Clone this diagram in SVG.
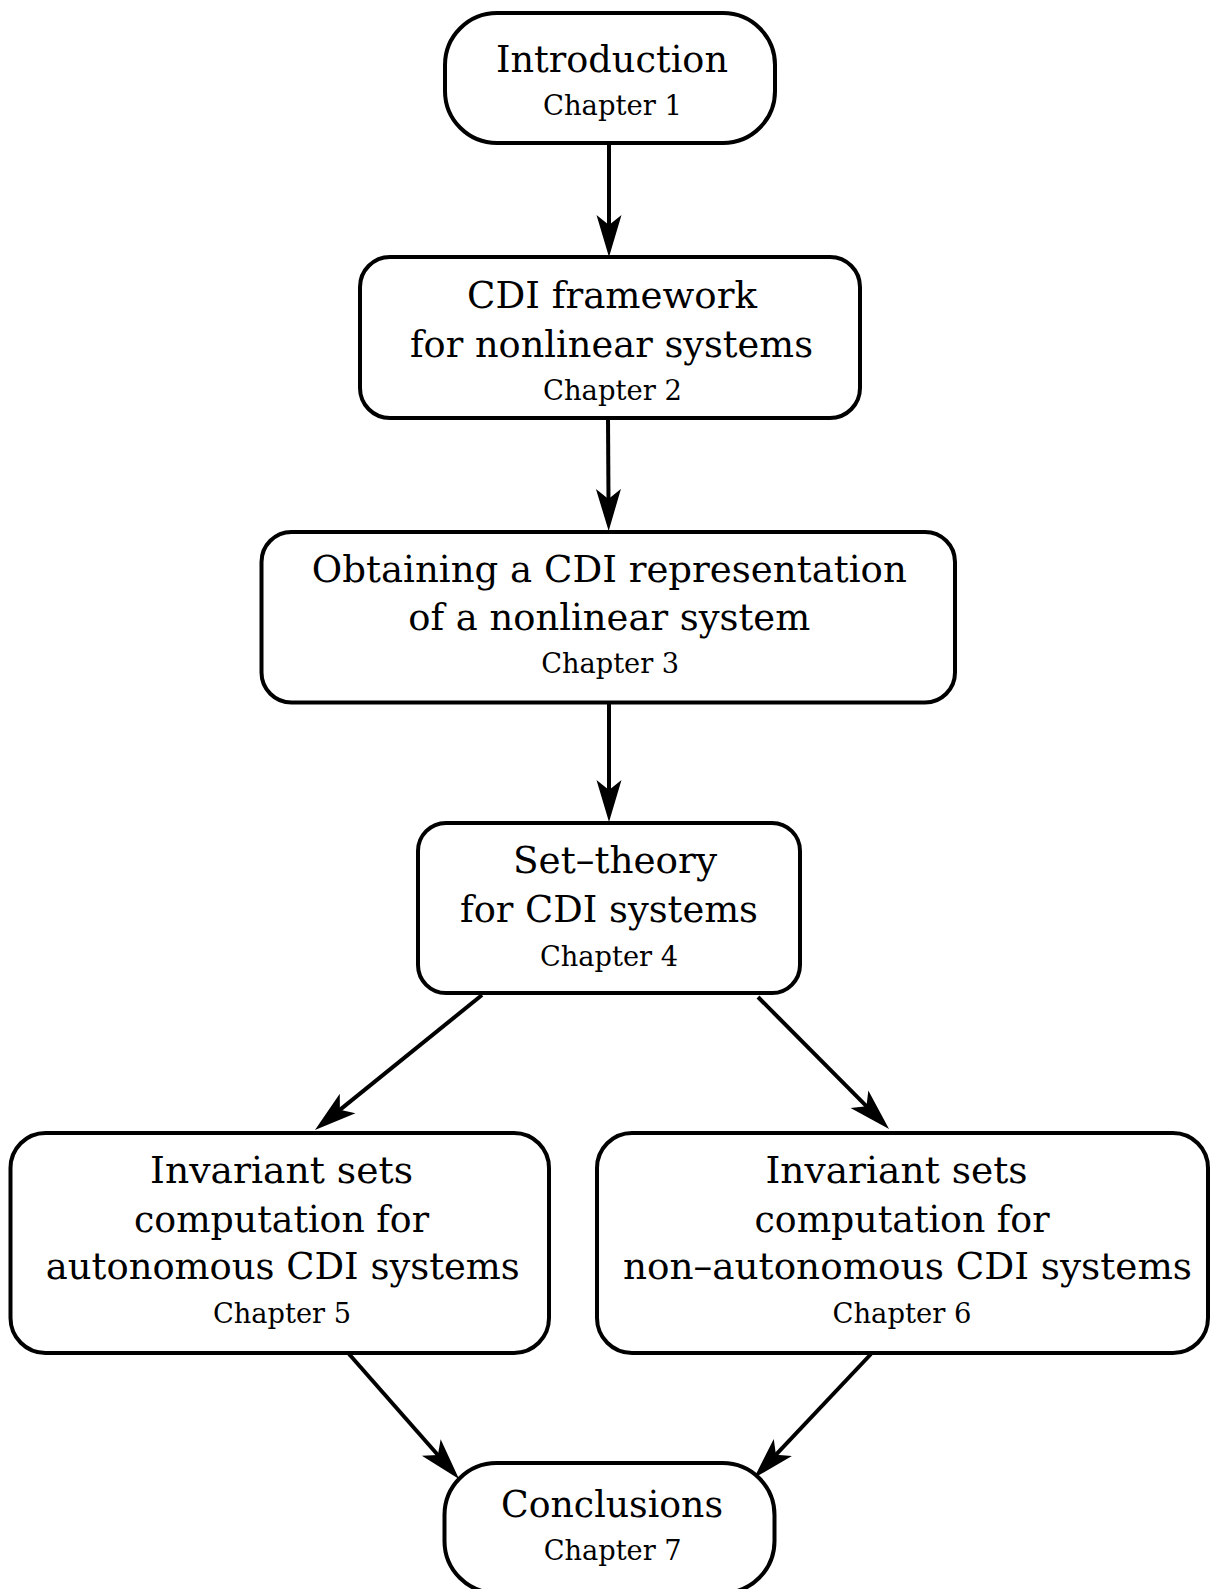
<svg xmlns="http://www.w3.org/2000/svg" width="1211" height="1589" viewBox="0 0 1211 1589">
<style>
.box{fill:#fff;stroke:#000;stroke-width:4}
.t{font-family:"DejaVu Serif","Liberation Serif",serif;font-size:36.5px;fill:#000;text-anchor:middle}
.c{font-family:"DejaVu Serif","Liberation Serif",serif;font-size:28.5px;fill:#000;text-anchor:middle}
.edge{stroke:#000;stroke-width:4;fill:none;marker-end:url(#arr)}
</style>
<defs>
<marker id="arr" markerUnits="userSpaceOnUse" markerWidth="44" markerHeight="28" viewBox="0 -14 44 28" refX="12" refY="0" orient="auto">
<path d="M42,0 L0,-12.5 L10,0 L0,12.5 Z" fill="#000"/>
</marker>
</defs>
<rect width="1211" height="1589" fill="#fff"/>
<g id="connectors">
<line class="edge" x1="609" y1="143" x2="609" y2="227"/>
<line class="edge" x1="608" y1="418" x2="608.5" y2="501"/>
<line class="edge" x1="609" y1="703" x2="609" y2="792"/>
<line class="edge" x1="482" y1="995" x2="338.3" y2="1111.1"/>
<line class="edge" x1="758" y1="997" x2="867.9" y2="1107.7"/>
<line class="edge" x1="349" y1="1354" x2="439.2" y2="1456.5"/>
<line class="edge" x1="871" y1="1354" x2="774.6" y2="1456.2"/>
</g>
<g id="n1">
<rect class="box" x="445" y="13" width="330" height="130" rx="52" ry="52"/>
<text class="t" x="612" y="72" textLength="232" lengthAdjust="spacingAndGlyphs">Introduction</text>
<text class="c" x="612.5" y="115" textLength="139" lengthAdjust="spacingAndGlyphs">Chapter 1</text>
</g>
<g id="n2">
<rect class="box" x="360" y="257" width="500" height="161" rx="30"/>
<text class="t" x="612" y="308" textLength="290" lengthAdjust="spacingAndGlyphs">CDI framework</text>
<text class="t" x="611.5" y="357" textLength="403" lengthAdjust="spacingAndGlyphs">for nonlinear systems</text>
<text class="c" x="612.5" y="400" textLength="139" lengthAdjust="spacingAndGlyphs">Chapter 2</text>
</g>
<g id="n3">
<rect class="box" x="261.5" y="532" width="693.5" height="170.5" rx="30"/>
<text class="t" x="609.3" y="582" textLength="595" lengthAdjust="spacingAndGlyphs">Obtaining a CDI representation</text>
<text class="t" x="609.2" y="630" textLength="402" lengthAdjust="spacingAndGlyphs">of a nonlinear system</text>
<text class="c" x="610.2" y="673" textLength="138" lengthAdjust="spacingAndGlyphs">Chapter 3</text>
</g>
<g id="n4">
<rect class="box" x="418" y="823" width="382" height="170" rx="28"/>
<text class="t" x="615" y="873" textLength="204" lengthAdjust="spacingAndGlyphs">Set–theory</text>
<text class="t" x="609" y="922" textLength="298" lengthAdjust="spacingAndGlyphs">for CDI systems</text>
<text class="c" x="609" y="966" textLength="138" lengthAdjust="spacingAndGlyphs">Chapter 4</text>
</g>
<g id="n5">
<rect class="box" x="10.5" y="1133" width="538.5" height="220" rx="35"/>
<text class="t" x="281.5" y="1183" textLength="263" lengthAdjust="spacingAndGlyphs">Invariant sets</text>
<text class="t" x="281.5" y="1232" textLength="295" lengthAdjust="spacingAndGlyphs">computation for</text>
<text class="t" x="282.8" y="1279" textLength="474" lengthAdjust="spacingAndGlyphs">autonomous CDI systems</text>
<text class="c" x="282" y="1323" textLength="138" lengthAdjust="spacingAndGlyphs">Chapter 5</text>
</g>
<g id="n6">
<rect class="box" x="597" y="1133" width="611" height="220" rx="35"/>
<text class="t" x="896.5" y="1183" textLength="262" lengthAdjust="spacingAndGlyphs">Invariant sets</text>
<text class="t" x="902" y="1232" textLength="295" lengthAdjust="spacingAndGlyphs">computation for</text>
<text class="t" x="907.5" y="1279" textLength="569" lengthAdjust="spacingAndGlyphs">non–autonomous CDI systems</text>
<text class="c" x="902" y="1323" textLength="139" lengthAdjust="spacingAndGlyphs">Chapter 6</text>
</g>
<g id="n7">
<rect class="box" x="444.5" y="1463" width="330" height="130" rx="52" ry="52"/>
<text class="t" x="612" y="1517" textLength="222" lengthAdjust="spacingAndGlyphs">Conclusions</text>
<text class="c" x="612.7" y="1560" textLength="138" lengthAdjust="spacingAndGlyphs">Chapter 7</text>
</g>
</svg>
